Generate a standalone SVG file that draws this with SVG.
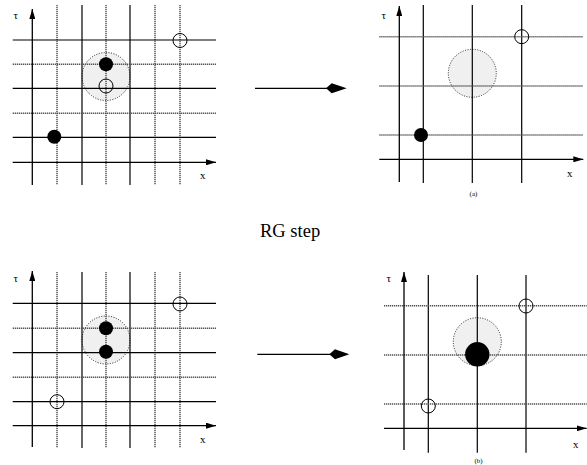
<svg xmlns="http://www.w3.org/2000/svg" width="587" height="465" viewBox="0 0 587 465">
<style>
.s{stroke:#000;stroke-width:1.2;fill:none}
.d{stroke:#555;stroke-width:1.5;stroke-dasharray:1.3 0.7;fill:none}
.blob{fill:#f0f0f0;stroke:#222;stroke-width:1;stroke-dasharray:1 1.5}
.open{fill:none;stroke:#000;stroke-width:1}
.full{fill:#000}
.ax{stroke:#000;stroke-width:1.3;fill:none}
.lbl{font-family:"Liberation Serif",serif;font-size:11px;fill:#000}
.cap{font-family:"Liberation Serif",serif;font-size:7px;fill:#000;text-anchor:middle}
.big{font-family:"Liberation Serif",serif;font-size:18.5px;fill:#000}
</style>
<defs>
<marker id="ah" viewBox="0 0 10 6" refX="10" refY="3" markerWidth="10" markerHeight="6" markerUnits="userSpaceOnUse" orient="auto">
<path d="M0,0 L10,3 L0,6 Z" fill="#000"/>
</marker>
</defs>

<g id="panel-top-left">
<circle class="blob" cx="106" cy="76.5" r="24"/>
<line class="d" x1="57" y1="5" x2="57" y2="185"/>
<line class="s" x1="82" y1="5" x2="82" y2="185"/>
<line class="d" x1="106" y1="5" x2="106" y2="185"/>
<line class="s" x1="130" y1="5" x2="130" y2="185"/>
<line class="d" x1="155" y1="5" x2="155" y2="185"/>
<line class="d" x1="180" y1="5" x2="180" y2="185"/>
<line class="s" x1="12.7" y1="40" x2="216" y2="40"/>
<line class="d" x1="12.7" y1="64.3" x2="216" y2="64.3"/>
<line class="s" x1="12.7" y1="88.3" x2="216" y2="88.3"/>
<line class="d" x1="12.7" y1="113.3" x2="216" y2="113.3"/>
<line class="s" x1="12.7" y1="137.3" x2="216" y2="137.3"/>
<line class="ax" x1="12.7" y1="162.3" x2="216" y2="162.3" marker-end="url(#ah)"/>
<line class="ax" x1="32.3" y1="185" x2="32.3" y2="9" marker-end="url(#ah)"/>
<circle class="full" cx="106" cy="64.3" r="7"/>
<circle class="open" cx="106" cy="86" r="7"/>
<circle class="open" cx="180" cy="40.5" r="7"/>
<circle class="full" cx="54.3" cy="136.7" r="7"/>
<text class="lbl" x="13.5" y="19">τ</text>
<text class="lbl" x="200" y="179">x</text>
</g>

<g id="panel-top-right">
<circle class="blob" cx="472.3" cy="73.3" r="24"/>
<line class="s" x1="423.3" y1="5" x2="423.3" y2="183"/>
<line class="s" x1="472.3" y1="5" x2="472.3" y2="183"/>
<line class="s" x1="521.7" y1="5" x2="521.7" y2="183"/>
<line class="d" x1="379.3" y1="36.7" x2="583.3" y2="36.7"/>
<line class="d" x1="379.3" y1="86" x2="583.3" y2="86"/>
<line class="d" x1="379.3" y1="135" x2="583.3" y2="135"/>
<line class="ax" x1="379.3" y1="159.3" x2="583.3" y2="159.3" marker-end="url(#ah)"/>
<line class="ax" x1="399.3" y1="182" x2="399.3" y2="6" marker-end="url(#ah)"/>
<circle class="open" cx="521.7" cy="36.7" r="7"/>
<circle class="full" cx="421" cy="135" r="7"/>
<text class="lbl" x="381.5" y="19">τ</text>
<text class="lbl" x="567" y="177">x</text>
<text class="cap" x="473.5" y="196">(a)</text>
</g>

<g id="panel-bottom-left">
<circle class="blob" cx="106" cy="340" r="24"/>
<line class="d" x1="57" y1="272" x2="57" y2="448"/>
<line class="s" x1="82" y1="272" x2="82" y2="448"/>
<line class="d" x1="106" y1="272" x2="106" y2="448"/>
<line class="s" x1="130" y1="272" x2="130" y2="448"/>
<line class="d" x1="155" y1="272" x2="155" y2="448"/>
<line class="d" x1="180" y1="272" x2="180" y2="448"/>
<line class="s" x1="12.7" y1="303.3" x2="216" y2="303.3"/>
<line class="d" x1="12.7" y1="328.3" x2="216" y2="328.3"/>
<line class="s" x1="12.7" y1="352.7" x2="216" y2="352.7"/>
<line class="d" x1="12.7" y1="377.3" x2="216" y2="377.3"/>
<line class="s" x1="12.7" y1="401.7" x2="216" y2="401.7"/>
<line class="ax" x1="12.7" y1="425.7" x2="216" y2="425.7" marker-end="url(#ah)"/>
<line class="ax" x1="32.3" y1="447" x2="32.3" y2="271" marker-end="url(#ah)"/>
<circle class="full" cx="106" cy="328.3" r="7"/>
<circle class="full" cx="106" cy="351.7" r="7"/>
<circle class="open" cx="180" cy="304" r="7"/>
<circle class="open" cx="57" cy="401.7" r="7"/>
<text class="lbl" x="13.5" y="282">τ</text>
<text class="lbl" x="200" y="443">x</text>
</g>

<g id="panel-bottom-right">
<circle class="blob" cx="477.3" cy="341.7" r="24"/>
<line class="s" x1="428.3" y1="275" x2="428.3" y2="452.7"/>
<line class="s" x1="477.3" y1="275" x2="477.3" y2="452.7"/>
<line class="s" x1="526" y1="275" x2="526" y2="452.7"/>
<line class="d" x1="384" y1="305.7" x2="586.7" y2="305.7"/>
<line class="d" x1="384" y1="355" x2="586.7" y2="355"/>
<line class="d" x1="384" y1="404" x2="586.7" y2="404"/>
<line class="ax" x1="384" y1="428.3" x2="586.7" y2="428.3" marker-end="url(#ah)"/>
<line class="ax" x1="404" y1="450" x2="404" y2="272" marker-end="url(#ah)"/>
<circle class="full" cx="477.3" cy="354.3" r="12.2"/>
<circle class="open" cx="526" cy="306" r="7"/>
<circle class="open" cx="428.3" cy="406" r="7"/>
<text class="lbl" x="386.5" y="282">τ</text>
<text class="lbl" x="573" y="448">x</text>
<text class="cap" x="478.5" y="463">(b)</text>
</g>

<g id="connectors">
<line x1="255" y1="88.3" x2="330" y2="88.3" stroke="#000" stroke-width="1.3"/>
<polygon points="346.7,88.3 331.7,83.3 326,88.3 331.7,93.3" fill="#000"/>
<line x1="257.3" y1="354.3" x2="333" y2="354.3" stroke="#000" stroke-width="1.3"/>
<polygon points="349.3,354.3 335,349.3 329.3,354.3 335,359.3" fill="#000"/>
</g>

<g id="title">
<text class="big" x="260" y="237">RG step</text>
</g>
</svg>
